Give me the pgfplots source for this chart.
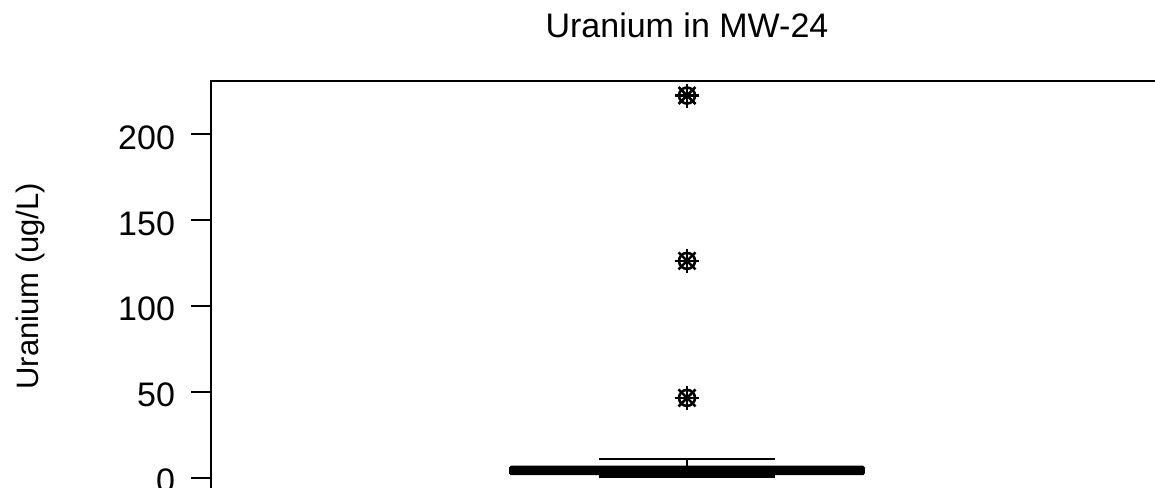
\documentclass[border=0pt]{standalone}
\usepackage{pgfplots}
\pgfplotsset{compat=1.18}
\usepackage{fontspec}
\setmainfont{Liberation Sans}
\begin{document}
\begin{tikzpicture}
\path[use as bounding box, clip] (-105.5pt,2.1pt) rectangle (472pt,246pt);
\begin{axis}[
    at={(0,0)}, anchor=south west,
    scale only axis,
    width=476pt, height=205.7pt,
    xmin=0.5, xmax=1.5,
    ymin=-8.4, ymax=231.2,
    xtick=\empty,
    ytick={0,50,100,150,200},
    tick align=outside,
    major tick length=10pt,
    axis line style={line width=1pt},
    every tick/.style={black, line width=1pt},
    tick label style={font=\fontsize{17}{20}\selectfont},
    yticklabel style={xshift=-4.5pt, yshift=-1.7pt},
    /pgf/number format/assume math mode=true,
    title={Uranium in MW-24},
    title style={at={(0.5,1)}, anchor=base, yshift=15.6pt, font=\fontsize{17}{20}\selectfont},
    ylabel={Uranium (ug/L)},
    ylabel style={at={(axis description cs:-0.1807,0.5)}, anchor=base, font=\fontsize{15.5}{19}\selectfont},
]
% box (Q1 = 2.2, Q3 = 6.2), small enough to look solid
\addplot[black, line width=1.3pt, fill=black, rounded corners=0.6pt] coordinates {
    (0.8145,2.2) (1.1855,2.2) (1.1855,6.2) (0.8145,6.2) (0.8145,2.2)};
% median
\addplot[black, line width=3pt] coordinates {(0.8145,3.5) (1.1855,3.5)};
% whiskers and staples
\addplot[black, line width=1pt] coordinates {(1,6.2) (1,10.9)};
\addplot[black, line width=1pt] coordinates {(0.9075,10.9) (1.0925,10.9)};
\addplot[black, line width=1pt] coordinates {(1,2.2) (1,0.5)};
\addplot[black, line width=1.5pt] coordinates {(0.9075,0.5) (1.0925,0.5)};
% outliers drawn as wheel-like asterisks
\addplot[only marks, mark=+, mark size=6pt, line width=1.3pt, black]
    coordinates {(1,222.5) (1,126.2) (1,46.4)};
\addplot[only marks, mark=x, mark size=6pt, line width=1.3pt, black]
    coordinates {(1,222.5) (1,126.2) (1,46.4)};
\addplot[only marks, mark=o, mark size=4pt, line width=1.3pt, black]
    coordinates {(1,222.5) (1,126.2) (1,46.4)};
\end{axis}
\end{tikzpicture}
\end{document}
